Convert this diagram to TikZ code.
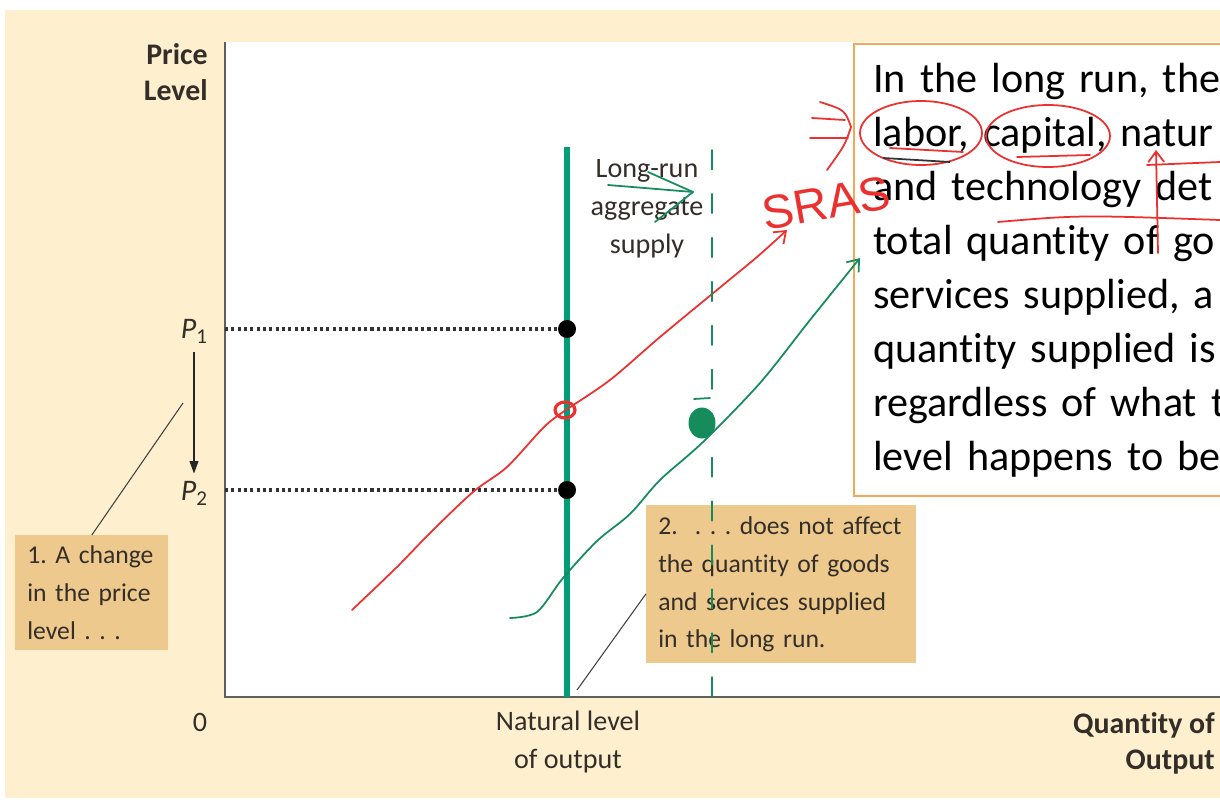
\documentclass[tikz,border=0pt]{standalone}
\usepackage{fontspec}
\setmainfont{Carlito}[Ligatures={NoCommon, NoRare}]
\newfontfamily\inkfont{Liberation Sans}
\usetikzlibrary{arrows.meta, positioning}

\definecolor{pagebeige}{RGB}{254,240,207}
\definecolor{calloutfill}{RGB}{237,201,142}
\definecolor{lrasgreen}{RGB}{0,158,118}
\definecolor{boxorange}{RGB}{244,168,86}
\definecolor{inkred}{RGB}{236,48,48}
\definecolor{inkgreen}{RGB}{22,140,92}
\definecolor{axisgray}{RGB}{95,95,95}
\definecolor{labeltext}{RGB}{52,46,40}

\tikzstyle{axis} = [axisgray, line width=1.2pt]
\tikzstyle{axislabel} = [
    font=\bfseries\fontsize{17}{20.5}\selectfont,
    text=labeltext,
    inner sep=0pt
]
\tikzstyle{graphlabel} = [
    font=\fontsize{16}{21.5}\selectfont,
    text=labeltext,
    inner sep=0pt
]
\tikzstyle{pricelabel} = [
    font=\itshape\fontsize{17}{20}\selectfont,
    text=labeltext,
    inner sep=1pt
]
\tikzstyle{callout} = [
    rectangle,
    fill=calloutfill,
    align=left,
    font=\frenchspacing\fontsize{14.6}{21.6}\selectfont,
    text=labeltext,
    inner xsep=0.24cm
]
\tikzstyle{dot} = [circle, fill=black, minimum size=0.36cm, inner sep=0pt]
\tikzstyle{guide} = [dash pattern=on 1.8pt off 1.8pt, line width=1.8pt, black!80]
\tikzstyle{leader} = [black!75, line width=0.6pt]
\tikzstyle{lras} = [lrasgreen, line width=3.4pt]
\tikzstyle{pricearrow} = [black!85, line width=0.6pt, -{Triangle[length=7pt, width=5pt]}]
\tikzstyle{redink} = [inkred, line width=1pt, line cap=round, line join=round]
\tikzstyle{greenink} = [inkgreen, line width=1pt, line cap=round, line join=round]
\tikzstyle{barb} = [-{Straight Barb[length=6pt, width=9pt]}]

\begin{document}
\begin{tikzpicture}[x=0.02cm, y=-0.02cm]

\useasboundingbox (0,0) rectangle (1220,808);

% page and plot area
\fill[pagebeige] (5,10) rectangle (1220,798);
\fill[white] (225,42) rectangle (1220,697);

\coordinate (origin) at (225,697);
\coordinate (ytop) at (225,42);
\coordinate (xend) at (1220,697);
\draw[axis] (ytop) -- (origin) -- (xend);

% axis labels
\node (pricelevel) [axislabel, align=right, anchor=east] at (208,72) {Price\\Level};
\node (quantity) [axislabel, align=right, anchor=east] at (1215,743) {Quantity of\\Output};
\node (zero) [graphlabel] at (200,722) {0};
\node (natural) [graphlabel, align=center] at (568,742) {Natural level\\of output};

% long-run aggregate supply
\coordinate (lrastop) at (567,147);
\coordinate (lrasbase) at (567,697);
\draw[lras] (lrastop) -- (lrasbase);
\node (lraslabel) [graphlabel, align=center] at (647,209) {Long-run\\aggregate\\supply};

% price levels
\node (highP) [dot] at (567,329) {};
\node (lowP) [dot] at (567,490) {};
\coordinate (p1axis) at (225,329);
\coordinate (p2axis) at (225,490);
\draw[guide] (p1axis) -- (highP);
\draw[guide] (p2axis) -- (lowP);

\node (P1) [pricelabel] at (194,331) {P\raisebox{-0.35ex}{\upshape\fontsize{12}{12}\selectfont 1}};
\node (P2) [pricelabel] at (194,493) {P\raisebox{-0.35ex}{\upshape\fontsize{12}{12}\selectfont 2}};
\draw[pricearrow, shorten <=4pt, shorten >=3pt] (P1) -- (P2);

% callouts
\node (changebox) [callout, anchor=north west, text width=2.58cm,
    minimum height=2.3cm] at (15,535)
{\mbox{1. A change}\\\mbox{in the price}\\\mbox{level . . .}};
\coordinate (changetip) at (183,403);
\draw[leader] (changetip) -- (changebox.north);

\node (noeffectbox) [callout, anchor=north west, text width=4.92cm,
    minimum height=3.16cm] at (646,505)
{\mbox{2.\ \ .\ .\ . does not affect}\\\mbox{the quantity of goods}\\\mbox{and services supplied}\\\mbox{in the long run.}};
\coordinate (noeffecttip) at (577,690);
\draw[leader] (noeffecttip) -- (noeffectbox.184);

% text box
\node (factsbox) [draw=boxorange, line width=1.4pt, fill=white, anchor=north west,
    align=left, text width=7.6cm, inner xsep=0.38cm, minimum height=9.04cm,
    font=\fontsize{24}{30.7}\selectfont] at (853,43)
{In the long run, the\\labor, capital, natur\\and technology det\\total quantity of go\\services supplied, a\\quantity supplied is\\regardless of what t\\level happens to be};

% handwritten notes
\draw[redink, barb] plot[smooth] coordinates {(352,610) (397,567) (430,533) (473,492) (507,467) (543,428) (563,412) (610,380) (660,337) (723,285) (757,257) (787,230)};
\draw[redink, line width=1.8pt] (565,410) ellipse [x radius=0.2cm, y radius=0.16cm];
\draw[greenink, barb] plot[smooth] coordinates {(510,618) (537,612) (563,578) (597,541) (630,514) (660,480) (703,442) (760,383) (810,320) (860,258)};
\draw[greenink, dash pattern=on 11pt off 14pt] (712,150) -- (712,697);
\fill[inkgreen] (702,423) ellipse [x radius=0.27cm, y radius=0.31cm];
\draw[greenink] (694,399) -- (710,398);
\draw[greenink] (608,185) -- (693,192);
\draw[greenink] (648,172) -- (693,192) -- (655,222);

\node (srasnote) [inkred, rotate=10, font=\inkfont\fontsize{27}{27}\selectfont] at (826,203) {SRAS};
\draw[redink] (812,118) -- (845,120);
\draw[redink] (810,138) -- (848,138);
\draw[redink] (820,102) .. controls (845,110) .. (851,127) .. controls (845,145) .. (827,170);

\draw[redink] (921,133) ellipse [x radius=1.22cm, y radius=0.64cm];
\draw[redink] (1048,136) ellipse [x radius=1.24cm, y radius=0.62cm];
\draw[black!80, line width=1pt] (883,158) -- (950,162);
\draw[redink] (890,148) -- (963,152);
\draw[redink] (1017,157) -- (1090,155);
\draw[redink] (998,222) .. controls (1080,215) .. (1220,220);
\draw[redink, barb] (1158,253) -- (1156,150);
\draw[redink] (1147,165) -- (1220,162);

\end{tikzpicture}
\end{document}
